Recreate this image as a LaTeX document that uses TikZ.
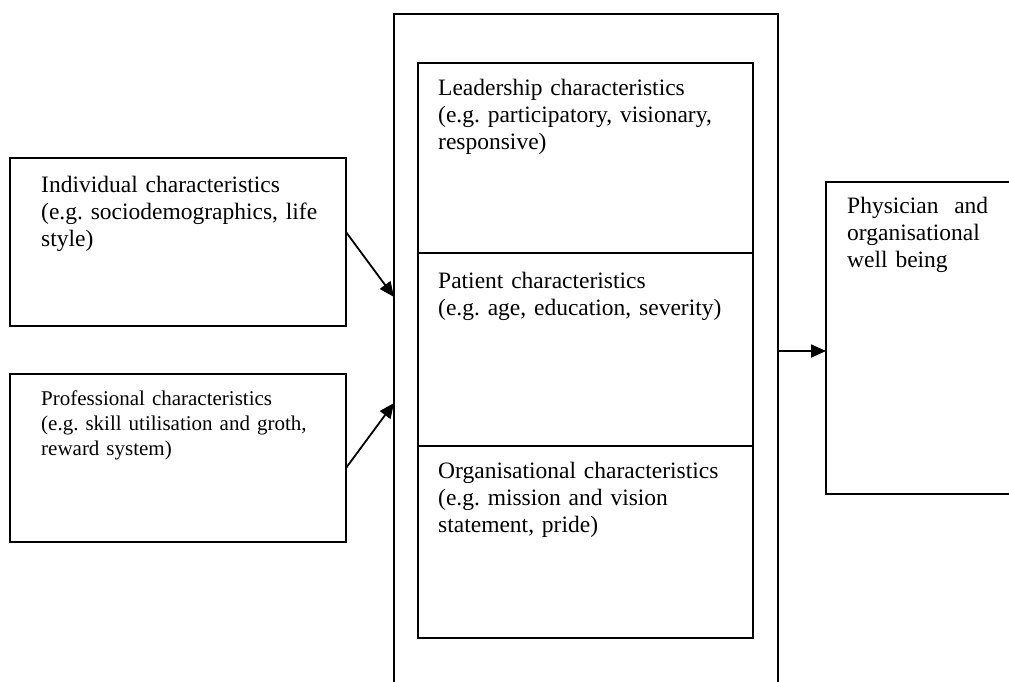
\documentclass[tikz,border=0pt]{standalone}
\usepackage{fontspec}
\setmainfont{Liberation Serif}
\usetikzlibrary{positioning}
\usetikzlibrary{arrows.meta}
\frenchspacing

\begin{document}
\begin{tikzpicture}[x=1pt,y=-1pt,
    box/.style={draw=black,line width=2pt,anchor=north west,inner sep=0pt,outer sep=0pt},
    txt/.style={anchor=base west,inner sep=0pt,align=left,text width=310pt,font=\fontsize{23.5}{27}\selectfont\frenchspacing},
    smalltxt/.style={txt,font=\fontsize{21}{25}\selectfont\frenchspacing},
    arr/.style={line width=1.8pt,-{Triangle[length=15pt,width=13pt]}}]

    \useasboundingbox (0,0) rectangle (1009,681);
    \clip (0,0) rectangle (1009,681);

    % Place the outer frame and its three parts
    \node[box,minimum width=384pt,minimum height=720pt] (outer) at (394,14) {};
    \node[box,minimum width=335pt,minimum height=190pt] (lead) at (418,63) {};
    \node[box,minimum width=335pt,minimum height=193pt,below=0pt of lead] (pat) {};
    \node[box,minimum width=335pt,minimum height=192pt,below=0pt of pat] (org) {};

    % Place the boxes on the left and on the right
    \node[box,minimum width=336pt,minimum height=168pt] (indiv) at (10,158) {};
    \node[box,minimum width=336pt,minimum height=168pt] (prof) at (10,374) {};
    \node[box,minimum width=250pt,minimum height=312pt] (phys) at (826,182) {};

    % Texts
    \node[txt] (leadtxt) at ([xshift=20pt,yshift=-32pt]lead.north west)
        {Leadership characteristics\\(e.g. participatory, visionary,\\responsive)};
    \node[txt] (pattxt) at ([xshift=20pt,yshift=-35pt]pat.north west)
        {Patient characteristics\\(e.g. age, education, severity)};
    \node[txt] (orgtxt) at ([xshift=20pt,yshift=-32pt]org.north west)
        {Organisational characteristics\\(e.g. mission and vision\\statement, pride)};
    \node[txt] (indivtxt) at ([xshift=31pt,yshift=-34pt]indiv.north west)
        {Individual characteristics\\(e.g. sociodemographics, life\\style)};
    \node[smalltxt] (proftxt) at ([xshift=31pt,yshift=-31pt]prof.north west)
        {Professional characteristics\\(e.g. skill utilisation and groth,\\reward system)};
    \node[txt,text width=141pt] (phystxt) at ([xshift=21pt,yshift=-31pt]phys.north west)
        {Physician\hfill and\\organisational\\well being};

    % Draw the arrows
    \draw[arr] ([yshift=10pt]indiv.east) -- (outer.west |- 0,297);
    \draw[arr] ([yshift=-10pt]prof.east) -- (outer.west |- 0,403);
    \draw[arr] (outer.east |- 0,351) -- (phys.west |- 0,351);

\end{tikzpicture}
\end{document}
